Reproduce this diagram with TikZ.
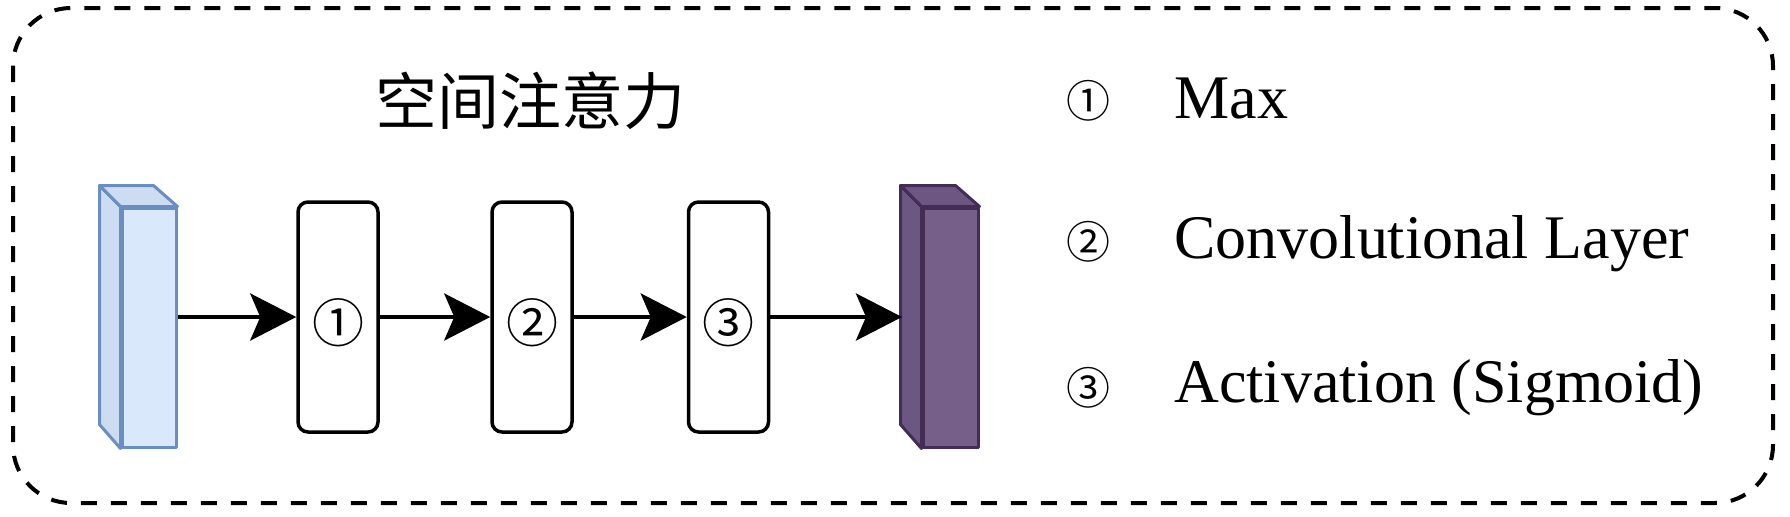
\documentclass[tikz,border=0pt]{standalone}
\usepackage{fontspec}
\setmainfont{Liberation Serif}
\newfontfamily\cjk{Noto Sans CJK SC}
\usetikzlibrary{arrows.meta}
\definecolor{bluefill}{HTML}{DAE8FC}
\definecolor{blueside}{HTML}{CCDCF2}
\definecolor{bluedraw}{HTML}{6C8EBF}
\definecolor{purfill}{HTML}{76608A}
\definecolor{purside}{HTML}{6C5782}
\definecolor{purdraw}{HTML}{432D57}
\begin{document}
\begin{tikzpicture}[x=0.5pt,y=-0.5pt,
  stepbox/.style={draw=black, line width=1.75pt, rounded corners=5pt,
    minimum width=40pt, minimum height=115pt, inner sep=0pt, fill=white},
  steplabel/.style={inner sep=0pt, font=\cjk\fontsize{26}{26}\selectfont},
  conn/.style={line width=2.2pt, -{Stealth[length=23pt,width=23.5pt,inset=5pt]}},
  bluebox/.style={draw=bluedraw, line width=1.5pt, line join=round},
  purbox/.style={draw=purdraw, line width=1.5pt, line join=round},
  keynum/.style={inner sep=0pt, font=\cjk\fontsize{22}{22}\selectfont},
  keytext/.style={anchor=base west, inner sep=0pt, font=\fontsize{31}{31}\selectfont},
  frame/.style={line width=2pt, dash pattern=on 8pt off 7pt, rounded corners=29pt}
]
\useasboundingbox (0,0) rectangle (1790,516);
\draw[frame] (13,8) rectangle (1773,503);

% title
\node[font=\cjk\fontsize{31}{31}\selectfont] (title) at (530,101) {空间注意力};

% input prism
\node[bluebox, fill=bluefill, minimum width=27pt, minimum height=119.5pt, inner sep=0pt] (in) at (149,327.5) {};
\filldraw[bluebox, fill=blueside] (in.north west) -- ++(-21,-21) -- ++(0,239) -- (in.south west) -- cycle;
\filldraw[bluebox, fill=blueside] (in.north west) -- ++(-21,-21) -- ++(54,0) -- (in.north east) -- cycle;

% steps
\node[stepbox] (b1) at (338,317) {};
\node[stepbox] (b2) at (532,317) {};
\node[stepbox] (b3) at (728.5,317) {};
\node[steplabel] (l1) at (338,323) {①};
\node[steplabel] (l2) at (532,323) {②};
\node[steplabel] (l3) at (728.5,323) {③};

% output prism
\node[purbox, fill=purfill, minimum width=27.5pt, minimum height=119.5pt, inner sep=0pt] (out) at (950.5,327.5) {};
\filldraw[purbox, fill=purside] (out.north west) -- ++(-21,-21) -- ++(0,239) -- (out.south west) -- cycle;
\filldraw[purbox, fill=purside] (out.north west) -- ++(-21,-21) -- ++(55,0) -- (out.north east) -- cycle;
\coordinate (outL) at (902,317);

% connectors
\draw[conn] (in.east |- b1.west) -- (b1.west);
\draw[conn] (b1.east) -- (b2.west);
\draw[conn] (b2.east) -- (b3.west);
\draw[conn] (b3.east) -- (outL);

% legend
\node[keynum] (k1) at (1088,101) {①};
\node[keynum] (k2) at (1088,242) {②};
\node[keynum] (k3) at (1088,388) {③};
\node[keytext] (t1) at (1174,118) {Max};
\node[keytext] (t2) at (1174,258) {Convolutional Layer};
\node[keytext] (t3) at (1174,402) {Activation (Sigmoid)};
\end{tikzpicture}
\end{document}
